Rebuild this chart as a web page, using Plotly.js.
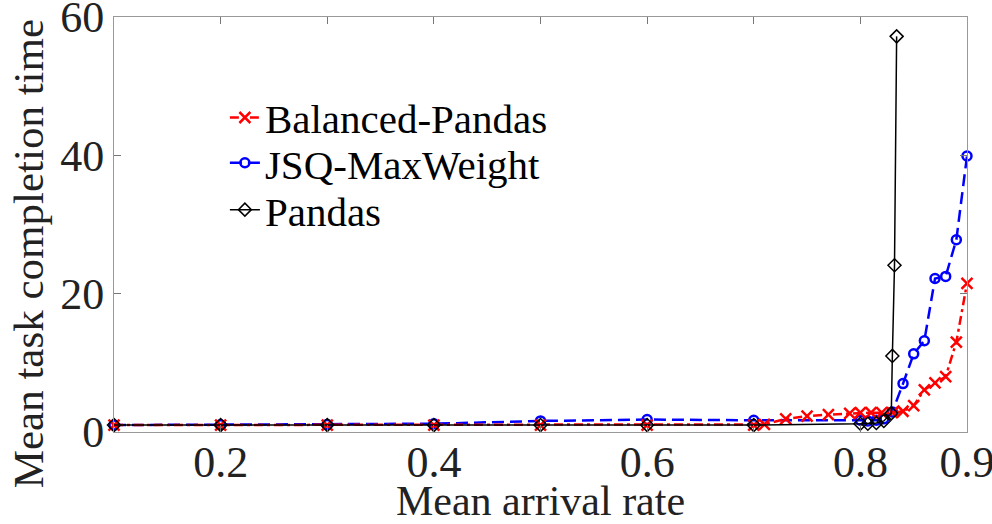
<!DOCTYPE html>
<html>
<head>
<meta charset="utf-8">
<script src="https://cdn.plot.ly/plotly-3.0.1.min.js"></script>
<style>html,body{margin:0;padding:0;background:#fff;}#chart{width:992px;height:524px;}</style>
</head>
<body>
<div id="chart"></div>
<script>
// Balanced-Pandas
const bpX = [0.1,0.2,0.3,0.4,0.5,0.6,0.7,0.71,0.73,0.75,0.77,0.79,0.8,0.81,0.82,0.83,0.84,0.85,0.86,0.87,0.88,0.89,0.9];
const bpY = [1.0,1.0,1.0,1.0,1.0,1.0,1.0,1.1,1.9,2.3,2.5,2.7,2.8,2.8,2.8,2.8,3.0,3.8,6.1,7.1,8.0,13.0,21.5];
// JSQ-MaxWeight
const jsqX = [0.1,0.2,0.3,0.4,0.5,0.6,0.7,0.8,0.807,0.815,0.822,0.83,0.84,0.85,0.86,0.87,0.88,0.89,0.9];
const jsqY = [1.0,1.05,1.1,1.2,1.6,1.8,1.7,1.7,1.6,1.7,1.9,2.9,7.0,11.3,13.2,22.2,22.5,27.8,39.9];
// Pandas
const pX = [0.1,0.2,0.3,0.4,0.5,0.6,0.7,0.8,0.807,0.815,0.822,0.829,0.83,0.832,0.834];
const pY = [1.0,1.0,1.0,1.0,1.0,1.0,1.0,1.2,1.2,1.3,1.6,2.7,11.0,24.1,57.2];
// Ticks
const xTickVals = [0.1,0.2,0.3,0.4,0.5,0.6,0.7,0.8,0.9];
const xTickText = ['','0.2','','0.4','','0.6','','0.8','0.9'];
const yTickVals = [0,20,40,60];
const yTitle = 'Mean task completion time';
const xTitle = 'Mean arrival rate';

const font = 'Liberation Serif, Times New Roman, serif';
const legFont = {family: font, size: 41, color: '#000'};
const legBase = {xanchor: 'left', yanchor: 'middle', bgcolor: 'rgba(0,0,0,0)', font: legFont, itemwidth: 30, x: 0.13};

const traces = [
  {x: jsqX, y: jsqY, name: 'JSQ-MaxWeight', mode: 'lines+markers', legend: 'legend2', cliponaxis: false,
   line: {color: '#0000ff', width: 2.5, dash: '12px,6px'},
   marker: {symbol: 'circle-open', size: 9, color: '#0000ff', line: {color: '#0000ff', width: 2.5}}},
  {x: bpX, y: bpY, name: 'Balanced-Pandas', mode: 'lines+markers', legend: 'legend', cliponaxis: false,
   line: {color: '#ff0000', width: 2.5, dash: '9px,4px,3px,4px'},
   marker: {symbol: 'x-thin-open', size: 11, color: '#ff0000', line: {color: '#ff0000', width: 2.5}}},
  {x: pX, y: pY, name: 'Pandas', mode: 'lines+markers', legend: 'legend3', cliponaxis: false,
   line: {color: '#000000', width: 1.5},
   marker: {symbol: 'diamond-open', size: 10, color: '#000000', line: {color: '#000000', width: 1.5}}}
];

const layout = {
  width: 992, height: 524,
  margin: {l: 114, r: 25, t: 17, b: 92},
  paper_bgcolor: '#fff', plot_bgcolor: '#fff',
  font: {family: font, color: '#111', size: 38},
  showlegend: true,
  legend: Object.assign({}, legBase, {y: 0.757}),
  legend2: Object.assign({}, legBase, {y: 0.648}),
  legend3: Object.assign({}, legBase, {y: 0.535}),
  xaxis: {range: [0.1, 0.9], tickmode: 'array', tickvals: xTickVals, ticktext: xTickText,
          ticks: 'inside', ticklen: 7, tickcolor: '#777', showline: true, linecolor: '#999', linewidth: 1,
          mirror: 'allticks', showgrid: false, zeroline: false, ticklabeloverflow: 'allow',
          ticklabelstandoff: -9,
          tickfont: {family: font, size: 44, color: '#222'},
          title: {text: xTitle, font: {family: font, size: 42, color: '#222'}, standoff: 0}},
  yaxis: {range: [0, 60], tickmode: 'array', tickvals: yTickVals,
          ticks: 'inside', ticklen: 7, tickcolor: '#777', showline: true, linecolor: '#999', linewidth: 1,
          mirror: 'allticks', showgrid: false, zeroline: false, ticklabeloverflow: 'allow',
          tickfont: {family: font, size: 44, color: '#222'}},
  annotations: [
    {text: yTitle, textangle: -90, xref: 'paper', yref: 'paper', x: -0.1, y: 0.43,
     xanchor: 'center', yanchor: 'middle', showarrow: false,
     font: {family: font, size: 43, color: '#222'}}
  ]
};

Plotly.newPlot('chart', traces, layout, {staticPlot: true, displayModeBar: false});
</script>
</body>
</html>
